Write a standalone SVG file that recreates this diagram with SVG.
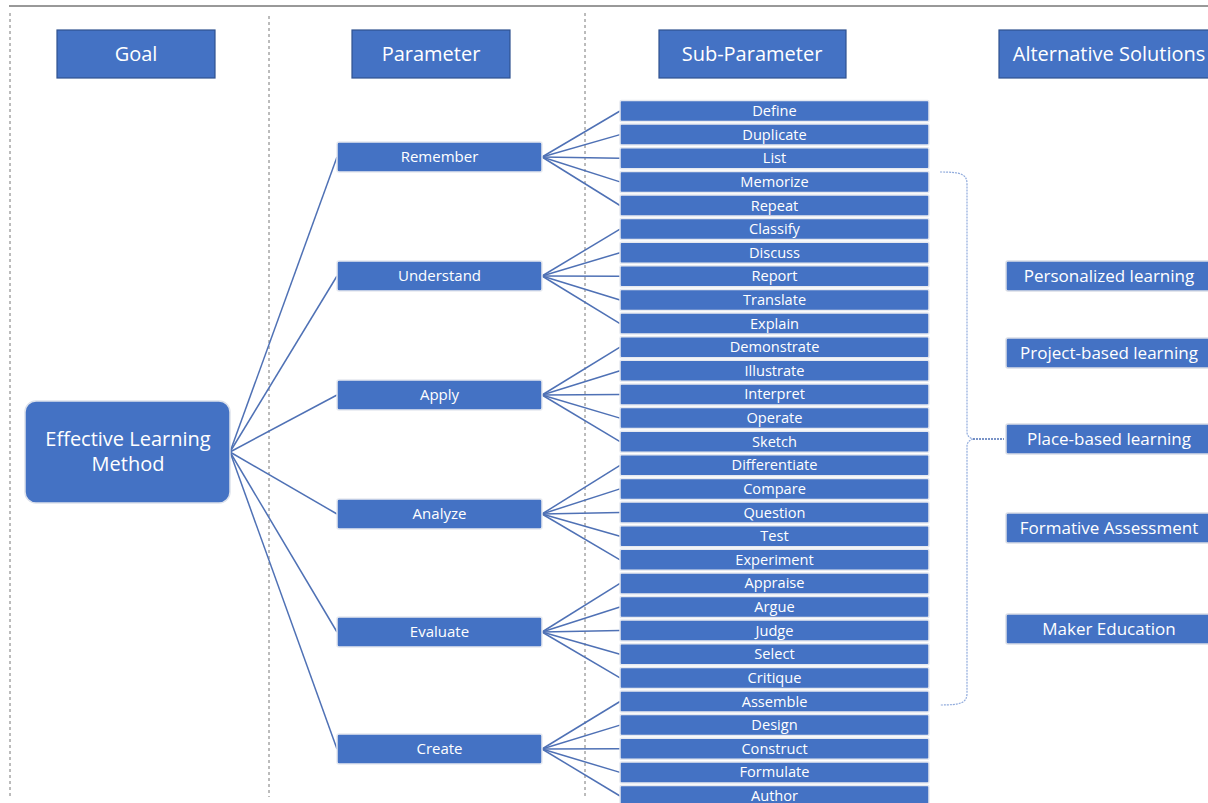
<svg xmlns="http://www.w3.org/2000/svg" width="1208" height="803" viewBox="0 0 1208 803">
<style>
.t{font-family:"Open Sans","Noto Sans",sans-serif;fill:#fff;text-anchor:middle}
.hdr rect{fill:#4472C4;stroke:#2F528F;stroke-width:1.2}
.hdr text{font-size:20px}
.par rect{fill:#4472C4;stroke:#E6E9F0;stroke-width:1.5}
.par text{font-size:15px}
.sub rect{fill:#4472C4;stroke:#E6E9F0;stroke-width:1.5}
.sub text{font-size:14.6px}
.alt rect{fill:#4472C4;stroke:#D9DDE6;stroke-width:1.5}
.alt text{font-size:17px}
.sep{stroke:#555;stroke-width:0.8;stroke-dasharray:3,3;fill:none}
.con line{stroke:#4F71B5;stroke-width:1.5}
.brace{fill:none;stroke:#8FAADC;stroke-width:1.2;stroke-dasharray:2,1}
</style>
<rect width="1208" height="803" fill="#fff"/>
<line x1="9" y1="6" x2="1208" y2="6" stroke="#333" stroke-width="1"/>
<g id="separators">
<line class="sep" x1="10" y1="13" x2="10" y2="797"/>
<line class="sep" x1="269" y1="16" x2="269" y2="797"/>
<line class="sep" x1="585" y1="13" x2="585" y2="797"/>
</g>
<g id="headers" class="hdr">
<g id="h-goal"><rect x="57" y="30" width="158" height="48"/><text class="t" x="136" y="61">Goal</text></g>
<g id="h-param"><rect x="352" y="30" width="158" height="48"/><text class="t" x="431" y="61">Parameter</text></g>
<g id="h-sub"><rect x="659" y="30" width="187" height="48"/><text class="t" x="752" y="61">Sub-Parameter</text></g>
<g id="h-alt"><rect x="999" y="30" width="215" height="48"/><text class="t" x="1109" y="61">Alternative Solutions</text></g>
</g>
<g id="connectors" class="con">
<line x1="230" y1="452" x2="337" y2="157"/>
<line x1="230" y1="452" x2="337" y2="276"/>
<line x1="230" y1="452" x2="337" y2="395"/>
<line x1="230" y1="452" x2="337" y2="514"/>
<line x1="230" y1="452" x2="337" y2="632"/>
<line x1="230" y1="452" x2="337" y2="749"/>
<line x1="542" y1="157" x2="620" y2="111"/>
<line x1="542" y1="157" x2="620" y2="134.6"/>
<line x1="542" y1="157" x2="620" y2="158.2"/>
<line x1="542" y1="157" x2="620" y2="181.9"/>
<line x1="542" y1="157" x2="620" y2="205.5"/>
<line x1="542" y1="276" x2="620" y2="229.1"/>
<line x1="542" y1="276" x2="620" y2="252.7"/>
<line x1="542" y1="276" x2="620" y2="276.3"/>
<line x1="542" y1="276" x2="620" y2="300"/>
<line x1="542" y1="276" x2="620" y2="323.6"/>
<line x1="542" y1="395" x2="620" y2="347.2"/>
<line x1="542" y1="395" x2="620" y2="370.8"/>
<line x1="542" y1="395" x2="620" y2="394.4"/>
<line x1="542" y1="395" x2="620" y2="418.1"/>
<line x1="542" y1="395" x2="620" y2="441.7"/>
<line x1="542" y1="514" x2="620" y2="465.3"/>
<line x1="542" y1="514" x2="620" y2="488.9"/>
<line x1="542" y1="514" x2="620" y2="512.5"/>
<line x1="542" y1="514" x2="620" y2="536.2"/>
<line x1="542" y1="514" x2="620" y2="559.8"/>
<line x1="542" y1="632" x2="620" y2="583.4"/>
<line x1="542" y1="632" x2="620" y2="607"/>
<line x1="542" y1="632" x2="620" y2="630.6"/>
<line x1="542" y1="632" x2="620" y2="654.3"/>
<line x1="542" y1="632" x2="620" y2="677.9"/>
<line x1="542" y1="749" x2="620" y2="701.5"/>
<line x1="542" y1="749" x2="620" y2="725.1"/>
<line x1="542" y1="749" x2="620" y2="748.7"/>
<line x1="542" y1="749" x2="620" y2="772.4"/>
<line x1="542" y1="749" x2="620" y2="796"/>
<path class="brace" d="M940,172 C961,172 967,174 967,184 L967,432 Q967,437 973,439 Q967,441 967,446 L967,693 C967,703 961,705 940,705"/>
<line class="brace" x1="973" y1="439" x2="1004" y2="439"/>
</g>
<g id="goal">
<rect x="25" y="401" width="205" height="102" rx="11" fill="#4472C4" stroke="#DDE2EC" stroke-width="1.5"/>
<text class="t" x="128" y="446" font-size="20">Effective Learning</text>
<text class="t" x="128" y="471" font-size="20">Method</text>
</g>
<g class="par">
<g id="p-remember"><rect x="337" y="142" width="205" height="30" rx="2"/><text class="t" x="439.5" y="162">Remember</text></g>
<g id="p-understand"><rect x="337" y="261" width="205" height="30" rx="2"/><text class="t" x="439.5" y="281">Understand</text></g>
<g id="p-apply"><rect x="337" y="380" width="205" height="30" rx="2"/><text class="t" x="439.5" y="400">Apply</text></g>
<g id="p-analyze"><rect x="337" y="499" width="205" height="30" rx="2"/><text class="t" x="439.5" y="519">Analyze</text></g>
<g id="p-evaluate"><rect x="337" y="617" width="205" height="30" rx="2"/><text class="t" x="439.5" y="637">Evaluate</text></g>
<g id="p-create"><rect x="337" y="734" width="205" height="30" rx="2"/><text class="t" x="439.5" y="754">Create</text></g>
</g>
<g class="sub">
<g id="s-define"><rect x="620" y="100.5" width="309" height="21" rx="1.5"/><text class="t" x="774.5" y="116">Define</text></g>
<g id="s-duplicate"><rect x="620" y="124.1" width="309" height="21" rx="1.5"/><text class="t" x="774.5" y="139.6">Duplicate</text></g>
<g id="s-list"><rect x="620" y="147.7" width="309" height="21" rx="1.5"/><text class="t" x="774.5" y="163.2">List</text></g>
<g id="s-memorize"><rect x="620" y="171.4" width="309" height="21" rx="1.5"/><text class="t" x="774.5" y="186.9">Memorize</text></g>
<g id="s-repeat"><rect x="620" y="195" width="309" height="21" rx="1.5"/><text class="t" x="774.5" y="210.5">Repeat</text></g>
<g id="s-classify"><rect x="620" y="218.6" width="309" height="21" rx="1.5"/><text class="t" x="774.5" y="234.1">Classify</text></g>
<g id="s-discuss"><rect x="620" y="242.2" width="309" height="21" rx="1.5"/><text class="t" x="774.5" y="257.7">Discuss</text></g>
<g id="s-report"><rect x="620" y="265.8" width="309" height="21" rx="1.5"/><text class="t" x="774.5" y="281.3">Report</text></g>
<g id="s-translate"><rect x="620" y="289.5" width="309" height="21" rx="1.5"/><text class="t" x="774.5" y="305">Translate</text></g>
<g id="s-explain"><rect x="620" y="313.1" width="309" height="21" rx="1.5"/><text class="t" x="774.5" y="328.6">Explain</text></g>
<g id="s-demonstrate"><rect x="620" y="336.7" width="309" height="21" rx="1.5"/><text class="t" x="774.5" y="352.2">Demonstrate</text></g>
<g id="s-illustrate"><rect x="620" y="360.3" width="309" height="21" rx="1.5"/><text class="t" x="774.5" y="375.8">Illustrate</text></g>
<g id="s-interpret"><rect x="620" y="383.9" width="309" height="21" rx="1.5"/><text class="t" x="774.5" y="399.4">Interpret</text></g>
<g id="s-operate"><rect x="620" y="407.6" width="309" height="21" rx="1.5"/><text class="t" x="774.5" y="423.1">Operate</text></g>
<g id="s-sketch"><rect x="620" y="431.2" width="309" height="21" rx="1.5"/><text class="t" x="774.5" y="446.7">Sketch</text></g>
<g id="s-differentiate"><rect x="620" y="454.8" width="309" height="21" rx="1.5"/><text class="t" x="774.5" y="470.3">Differentiate</text></g>
<g id="s-compare"><rect x="620" y="478.4" width="309" height="21" rx="1.5"/><text class="t" x="774.5" y="493.9">Compare</text></g>
<g id="s-question"><rect x="620" y="502" width="309" height="21" rx="1.5"/><text class="t" x="774.5" y="517.5">Question</text></g>
<g id="s-test"><rect x="620" y="525.7" width="309" height="21" rx="1.5"/><text class="t" x="774.5" y="541.2">Test</text></g>
<g id="s-experiment"><rect x="620" y="549.3" width="309" height="21" rx="1.5"/><text class="t" x="774.5" y="564.8">Experiment</text></g>
<g id="s-appraise"><rect x="620" y="572.9" width="309" height="21" rx="1.5"/><text class="t" x="774.5" y="588.4">Appraise</text></g>
<g id="s-argue"><rect x="620" y="596.5" width="309" height="21" rx="1.5"/><text class="t" x="774.5" y="612">Argue</text></g>
<g id="s-judge"><rect x="620" y="620.1" width="309" height="21" rx="1.5"/><text class="t" x="774.5" y="635.6">Judge</text></g>
<g id="s-select"><rect x="620" y="643.8" width="309" height="21" rx="1.5"/><text class="t" x="774.5" y="659.3">Select</text></g>
<g id="s-critique"><rect x="620" y="667.4" width="309" height="21" rx="1.5"/><text class="t" x="774.5" y="682.9">Critique</text></g>
<g id="s-assemble"><rect x="620" y="691" width="309" height="21" rx="1.5"/><text class="t" x="774.5" y="706.5">Assemble</text></g>
<g id="s-design"><rect x="620" y="714.6" width="309" height="21" rx="1.5"/><text class="t" x="774.5" y="730.1">Design</text></g>
<g id="s-construct"><rect x="620" y="738.2" width="309" height="21" rx="1.5"/><text class="t" x="774.5" y="753.7">Construct</text></g>
<g id="s-formulate"><rect x="620" y="761.9" width="309" height="21" rx="1.5"/><text class="t" x="774.5" y="777.4">Formulate</text></g>
<g id="s-author"><rect x="620" y="785.5" width="309" height="21" rx="1.5"/><text class="t" x="774.5" y="801">Author</text></g>
</g>
<g class="alt">
<g id="a-personalized"><rect x="1006" y="261" width="210" height="30" rx="2"/><text class="t" x="1109" y="282">Personalized learning</text></g>
<g id="a-project"><rect x="1006" y="338" width="210" height="30" rx="2"/><text class="t" x="1109" y="359">Project-based learning</text></g>
<g id="a-place"><rect x="1006" y="424" width="210" height="30" rx="2"/><text class="t" x="1109" y="445">Place-based learning</text></g>
<g id="a-formative"><rect x="1006" y="513" width="210" height="30" rx="2"/><text class="t" x="1109" y="534">Formative Assessment</text></g>
<g id="a-maker"><rect x="1006" y="614" width="210" height="30" rx="2"/><text class="t" x="1109" y="635">Maker Education</text></g>
</g>
</svg>
